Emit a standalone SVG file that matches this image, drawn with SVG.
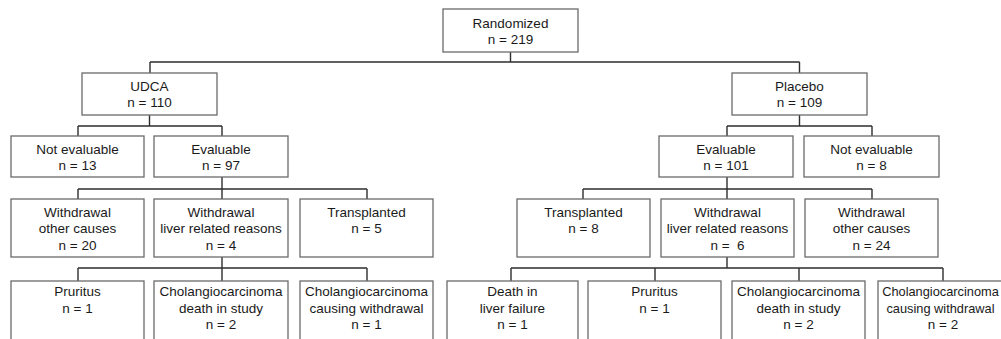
<svg xmlns="http://www.w3.org/2000/svg" width="1001" height="339" viewBox="0 0 1001 339">
<style>
.box{fill:#fff;stroke:#6a6a6a;stroke-width:1.3}
.t{font-family:"Liberation Sans",Arial,sans-serif;font-size:13.5px;fill:#1a1a1a;text-anchor:middle}
.s{font-size:12.8px}
.c{fill:none;stroke:#2e2e2e;stroke-width:1.4}
</style>
<rect width="1001" height="339" fill="#fff"/>
<g id="connectors" class="c">
<path d="M510.5,52V62M150,62H799.5M150,62V73M799.5,62V73"/>
<path d="M149.5,115V126M78,126H222M78,126V136M222,126V136"/>
<path d="M799.5,115V126M727,126H872M727,126V136M872,126V136"/>
<path d="M222,177V189M78,189H367M78,189V199M222,189V199M367,189V199"/>
<path d="M727,177V189M583,189H872M583,189V199M727,189V199M872,189V199"/>
<path d="M222,257V268M78,268H367M78,268V281M222,268V281M367,268V281"/>
<path d="M727,257V268M511,268H943M511,268V281M655,268V281M799,268V281M943,268V281"/>
</g>
<g id="randomized"><rect class="box" x="443" y="9" width="135" height="43"/><text class="t" x="510.5" y="27.5">Randomized</text><text class="t" x="510.5" y="44">n = 219</text></g>
<g id="udca"><rect class="box" x="82" y="73" width="135" height="42"/><text class="t" x="149.5" y="90.5">UDCA</text><text class="t" x="149.5" y="107">n = 110</text></g>
<g id="placebo"><rect class="box" x="732" y="73" width="135" height="42"/><text class="t" x="799.5" y="90.5">Placebo</text><text class="t" x="799.5" y="107">n = 109</text></g>
<g id="notevalL"><rect class="box" x="11" y="136" width="133" height="41"/><text class="t" x="77.5" y="153.5">Not evaluable</text><text class="t" x="77.5" y="170">n = 13</text></g>
<g id="evalL"><rect class="box" x="154" y="136" width="134" height="41"/><text class="t" x="221" y="153.5">Evaluable</text><text class="t" x="221" y="170">n = 97</text></g>
<g id="evalR"><rect class="box" x="659" y="136" width="134" height="41"/><text class="t" x="726" y="153.5">Evaluable</text><text class="t" x="726" y="170">n = 101</text></g>
<g id="notevalR"><rect class="box" x="804" y="136" width="135" height="41"/><text class="t" x="871.5" y="153.5">Not evaluable</text><text class="t" x="871.5" y="170">n = 8</text></g>
<g id="wocL"><rect class="box" x="11" y="199" width="133" height="58"/><text class="t" x="77.5" y="216.5">Withdrawal</text><text class="t" x="77.5" y="233">other causes</text><text class="t" x="77.5" y="249.5">n = 20</text></g>
<g id="wlrL"><rect class="box" x="154" y="199" width="134" height="58"/><text class="t" x="221" y="216.5">Withdrawal</text><text class="t" x="221" y="233">liver related reasons</text><text class="t" x="221" y="249.5">n = 4</text></g>
<g id="transL"><rect class="box" x="300" y="199" width="133" height="58"/><text class="t" x="366.5" y="216.5">Transplanted</text><text class="t" x="366.5" y="233">n = 5</text></g>
<g id="transR"><rect class="box" x="517" y="199" width="133" height="58"/><text class="t" x="583.5" y="216.5">Transplanted</text><text class="t" x="583.5" y="233">n = 8</text></g>
<g id="wlrR"><rect class="box" x="661" y="199" width="133" height="58"/><text class="t" x="727.5" y="216.5">Withdrawal</text><text class="t" x="727.5" y="233">liver related reasons</text><text class="t" x="727.5" y="249.5" xml:space="preserve">n =  6</text></g>
<g id="wocR"><rect class="box" x="805" y="199" width="133" height="58"/><text class="t" x="871.5" y="216.5">Withdrawal</text><text class="t" x="871.5" y="233">other causes</text><text class="t" x="871.5" y="249.5">n = 24</text></g>
<g id="pruL"><rect class="box" x="11" y="281" width="133" height="70"/><text class="t" x="77.5" y="296">Pruritus</text><text class="t" x="77.5" y="312.5">n = 1</text></g>
<g id="chdL"><rect class="box" x="154" y="281" width="134" height="70"/><text class="t" x="221" y="296">Cholangiocarcinoma</text><text class="t" x="221" y="312.5">death in study</text><text class="t" x="221" y="329">n = 2</text></g>
<g id="chwL"><rect class="box" x="300" y="281" width="133" height="70"/><text class="t" x="366.5" y="296">Cholangiocarcinoma</text><text class="t" x="366.5" y="312.5">causing withdrawal</text><text class="t" x="366.5" y="329">n = 1</text></g>
<g id="deathR"><rect class="box" x="447" y="281" width="131" height="70"/><text class="t" x="512.5" y="296">Death in</text><text class="t" x="512.5" y="312.5">liver failure</text><text class="t" x="512.5" y="329">n = 1</text></g>
<g id="pruR"><rect class="box" x="588" y="281" width="133" height="70"/><text class="t" x="654.5" y="296">Pruritus</text><text class="t" x="654.5" y="312.5">n = 1</text></g>
<g id="chdR"><rect class="box" x="732" y="281" width="133" height="70"/><text class="t" x="798.5" y="296">Cholangiocarcinoma</text><text class="t" x="798.5" y="312.5">death in study</text><text class="t" x="798.5" y="329">n = 2</text></g>
<g id="chwR"><rect class="box" x="878" y="281" width="131" height="70"/><text class="t s" x="940.5" y="296">Cholangiocarcinoma</text><text class="t s" x="940.5" y="312.5">causing withdrawal</text><text class="t" x="943" y="329">n = 2</text></g>
</svg>
